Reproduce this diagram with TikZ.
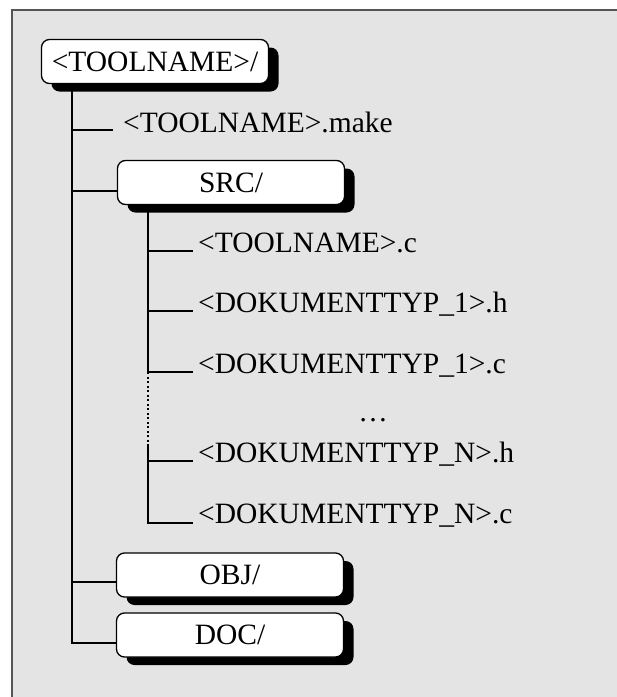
\documentclass[tikz,border=0pt]{standalone}
\usepackage{fontspec}
\setmainfont{Liberation Serif}
\usetikzlibrary{shadows}
\definecolor{bgcol}{HTML}{E4E4E4}
\definecolor{framecol}{HTML}{555555}
\begin{document}
\begin{tikzpicture}[x=1pt,y=-1pt,
  every node/.style={font=\fontsize{29.5}{35}\selectfont},
  dirbox/.style={draw=black, fill=white, line width=1.3pt, rounded corners=8pt,
    minimum width=227pt, minimum height=44pt, inner sep=0pt,
    drop shadow={shadow xshift=10pt, shadow yshift=-8pt, fill=black, opacity=1}},
  fileent/.style={anchor=base west, inner sep=0pt},
  conn/.style={line width=1.1pt, draw=black},
  dotconn/.style={line width=2pt, dash pattern=on 2pt off 2.5pt}]
\useasboundingbox (0,0) rectangle (617,697);
\clip (0,0) rectangle (617,697);
\filldraw[fill=bgcol, draw=framecol, line width=1.6pt] (12,10) rectangle (640,720);

% directory boxes
\node[dirbox] (root) at (155,61.5) {<TOOLNAME>/};
\node[dirbox] (src) at (231,182.5) {SRC/};
\node[dirbox] (obj) at (230,575) {OBJ/};
\node[dirbox] (doc) at (230,635) {DOC/};

% files
\node[fileent] (make) at (123,132) {<TOOLNAME>.make};
\node[fileent] (f1) at (198,252.5) {<TOOLNAME>.c};
\node[fileent] (f2) at (198,312.5) {<DOKUMENTTYP\_1>.h};
\node[fileent] (f3) at (198,373) {<DOKUMENTTYP\_1>.c};
\node[anchor=base, inner sep=0pt] (dots) at (373,421) {…};
\node[fileent] (f4) at (198,462.5) {<DOKUMENTTYP\_N>.h};
\node[fileent] (f5) at (198,523.5) {<DOKUMENTTYP\_N>.c};

% connector ends
\coordinate (t1) at (72,83);
\coordinate (t2) at (148,205);
\coordinate (cmake) at (113,130);
\coordinate (c1) at (193,251);
\coordinate (c2) at (193,311);
\coordinate (c3) at (193,372);
\coordinate (c4) at (193,461);
\coordinate (c5) at (193,523);
\coordinate (dtop) at (148,372);
\coordinate (dbot) at (148,445);

% main trunk
\draw[conn] (t1) |- ([yshift=-8pt]doc.west);
\draw[conn] (t1 |- cmake) -- (cmake);
\draw[conn] (t1 |- 0,191) -- (src.west |- 0,191);
\draw[conn] (t1 |- 0,582) -- (obj.west |- 0,582);

% src trunk
\draw[conn] (t2) -- (dtop);
\draw[dotconn] (dtop) -- (dbot);
\draw[conn] (dbot) |- (c5);
\draw[conn] (t2 |- c1) -- (c1);
\draw[conn] (t2 |- c2) -- (c2);
\draw[conn] (t2 |- c3) -- (c3);
\draw[conn] (t2 |- c4) -- (c4);
\end{tikzpicture}
\end{document}
